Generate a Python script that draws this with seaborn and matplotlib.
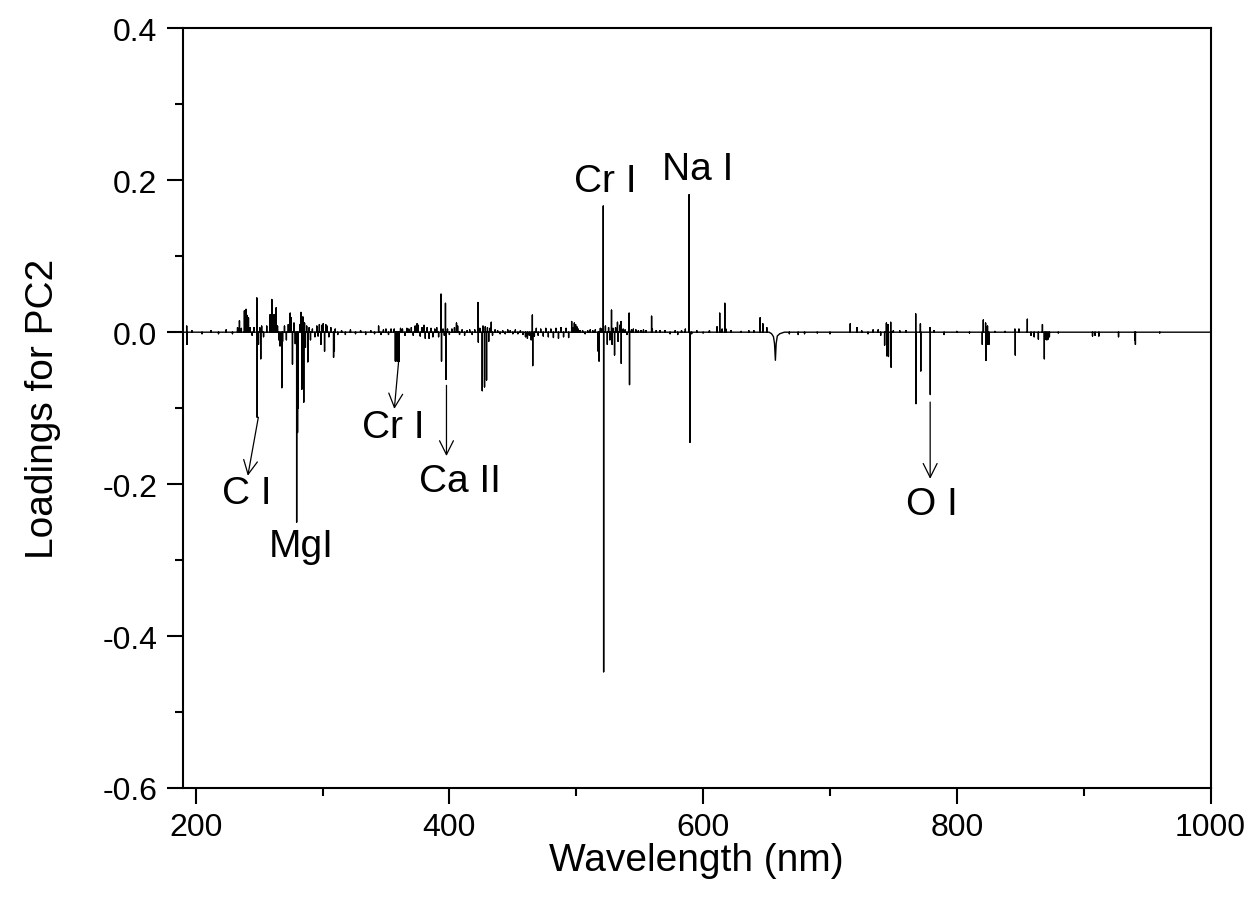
import matplotlib
matplotlib.use("Agg")
import matplotlib.pyplot as plt
import seaborn as sns
import pandas as pd
from matplotlib.ticker import MultipleLocator, FormatStrFormatter

# ---- data: emission-line loadings (wavelength nm, PC2 loading) ----
peak_wl = [
    192.9, 193.1, 197, 205, 212, 218, 224, 229,
    233.0, 234.5, 236, 238.4, 239.7, 240.5, 241.6, 243, 244.5, 246,
    248.2, 248.5, 249.5, 250.5, 251.3, 252, 253.5,
    256, 258.7, 259.2, 260.0, 260.5, 261.8, 262.5, 263.4, 264.5,
    265.5, 266.5, 267.9, 268.5, 270, 271.5, 273, 274.5, 275.2, 276.3, 277.5, 278.5,
    279.6, 280.3, 280.8, 282, 283.0, 283.7, 284.5, 285.2, 285.8, 286.5, 287.5, 288.4, 289.5, 290.5,
    292, 294, 295.5, 296.5, 297.5, 298.7, 299.5, 300.5, 301.6, 302.5, 303.5, 305, 306.5, 308.7, 309.3, 310,
    312, 315, 318, 322, 326, 330, 334, 338, 341, 344.2, 346, 348, 350, 352, 354,
    356.5, 357.4, 357.9, 358.6, 359.3, 360.0, 360.5, 361.5,
    363, 365, 366.5, 368, 370, 371.5, 373, 374.5, 375.5, 377, 378.5, 380, 381, 382.5, 384, 385.5, 387, 388.5, 390, 391.5,
    393.4, 393.8, 395, 396, 396.9, 397.3, 398.5, 400,
    402, 404, 405.6, 406.5, 408, 410, 412, 414, 416, 418, 420,
    422.5, 422.8, 424, 425.9, 426.5, 427.7, 428.3, 429.3, 430, 431, 432, 433, 434, 436, 438, 440,
    442, 444, 446, 448, 450, 452, 454, 456, 458, 460, 461.5, 463, 464.5, 465.4, 465.7, 467, 468.5,
    470, 472, 474, 476, 478, 480, 482, 484, 486, 488, 490, 492, 494,
    496.4, 497.5, 498.5, 499.5, 500.5, 501.5, 503, 505, 507, 509, 511, 513, 515,
    517.3, 518.0, 519, 520, 521.3, 521.6,
    523, 524.5, 525.5, 526.5, 527.8, 528.3, 529, 530.2, 531, 532.5, 533, 534.3, 535.2, 535.5,
    537, 538.5, 540, 541.7, 542.0, 543.5, 545, 547, 549, 551, 553, 555,
    559.4, 560, 563, 566, 570, 574, 578, 580, 583, 586,
    589.0, 589.6,
    591, 595, 600, 605, 611, 613.1, 615, 617.1, 618, 622, 630, 636, 640,
    645.0, 647.1, 650.2,
    668, 675, 680, 690, 700,
    716.0, 721.3, 725, 730, 734, 738, 740, 743.1, 744.5, 744.8, 745.8, 746.1, 747.9, 748.2, 750, 755, 760,
    767.6, 767.9, 771.3, 771.6, 778.8, 779.1, 782, 790, 800, 810,
    820.1, 820.9, 822.7, 823.0, 824.2, 824.5, 825.3, 830, 838,
    845.8, 846.1, 849, 855.6, 858.5, 861, 864.3, 867.5, 869.0, 870, 871, 872, 873, 880,
    907, 909, 912, 927.5, 940.4, 940.8, 960,
]
peak_val = [
    0.008, -0.016, 0.002, -0.002, 0.002, -0.002, 0.003, -0.002,
    0.006, 0.015, 0.005, 0.028, 0.030, 0.022, 0.019, 0.006, -0.004, 0.006,
    0.045, -0.112, -0.016, 0.006, -0.035, 0.008, -0.006,
    0.008, 0.023, 0.012, 0.043, 0.015, 0.023, 0.010, 0.032, 0.008,
    -0.010, -0.018, -0.073, -0.012, 0.008, -0.010, 0.010, 0.025, 0.019, -0.042, 0.012, -0.015,
    -0.250, -0.132, -0.100, 0.010, 0.026, -0.075, 0.020, -0.092, 0.012, -0.020, 0.008, -0.039, 0.006, -0.010,
    0.004, -0.006, 0.008, -0.005, 0.010, -0.016, 0.009, 0.011, -0.025, 0.010, 0.008, -0.006, 0.006, -0.033, -0.025, 0.004,
    -0.003, 0.002, -0.003, 0.003, -0.002, 0.002, -0.003, 0.002, -0.002, 0.008, -0.003, 0.003, 0.004, -0.003, 0.004,
    0.004, -0.038, -0.038, -0.036, -0.038, -0.036, -0.038, 0.005,
    0.004, -0.004, 0.005, 0.004, 0.006, -0.004, 0.008, 0.011, 0.009, -0.005, 0.006, 0.009, -0.008, 0.006, -0.008, 0.005, -0.006, 0.004, 0.006, -0.006,
    0.050, -0.038, 0.004, -0.004, 0.038, -0.062, 0.004, -0.003,
    0.004, 0.006, 0.012, 0.008, -0.003, 0.003, -0.004, 0.002, 0.003, -0.003, 0.003,
    0.039, -0.013, 0.005, -0.077, 0.008, -0.072, 0.007, -0.063, 0.006, -0.012, 0.005, 0.013, -0.004, 0.003, 0.002, -0.002,
    0.002, -0.002, 0.003, 0.002, -0.002, 0.003, -0.002, 0.002, -0.003, -0.006, -0.008, -0.004, -0.010, 0.0225, -0.044, -0.005, 0.005,
    -0.004, 0.004, -0.005, 0.005, -0.006, 0.004, -0.007, 0.005, -0.008, 0.006, -0.006, 0.005, -0.007,
    0.014, 0.006, 0.012, 0.010, 0.007, 0.004, 0.002, 0.002, -0.002, 0.002, 0.003, 0.002, 0.003,
    -0.025, -0.038, 0.005, 0.004, 0.166, -0.447,
    0.008, -0.016, 0.006, -0.010, 0.029, -0.016, 0.005, -0.030, 0.006, 0.013, -0.012, 0.009, 0.014, -0.041,
    0.004, 0.003, -0.003, 0.025, -0.069, 0.003, 0.004, 0.003, 0.002, 0.002, 0.003, 0.002,
    0.021, 0.004, 0.002, 0.002, 0.002, -0.002, 0.002, -0.003, 0.002, 0.004,
    0.181, -0.145,
    -0.002, 0.002, -0.001, 0.002, 0.007, 0.025, 0.004, 0.038, 0.004, 0.002, 0.001, 0.002, 0.002,
    0.019, 0.011, 0.006,
    -0.002, -0.003, -0.002, -0.001, -0.002,
    0.011, 0.006, 0.002, -0.002, 0.003, 0.003, -0.004, -0.017, 0.012, -0.031, 0.010, -0.032, 0.013, -0.046, 0.002, 0.002, 0.002,
    0.024, -0.094, 0.011, -0.051, 0.006, -0.082, 0.002, -0.003, 0.001, -0.001,
    -0.016, 0.016, 0.012, -0.037, 0.008, -0.016, -0.016, 0.001, 0.001,
    0.004, -0.030, 0.004, 0.017, -0.004, -0.006, -0.009, 0.010, -0.035, -0.009, -0.010, -0.009, -0.006, -0.001,
    -0.005, -0.004, -0.005, -0.006, -0.010, -0.016, -0.001,
]
# broad H-alpha profile
halpha_wl = [652.0, 654.0, 655.5, 656.3, 657.0, 657.6, 658.5, 660.5, 664.0]
halpha_val = [0.0, -0.002, -0.006, -0.015, -0.037, -0.015, -0.005, -0.002, 0.0]
range_wl = [190.0, 1000.0]

# annotations: label, text position, arrow tail, arrow head (None = no arrow)
ann_labels = ["C I", "MgI", "Cr I", "Ca II", "Cr I", "Na I", "O I"]
ann_text_xy = [(240.5, -0.212), (283.5, -0.282), (356.0, -0.125), (408.0, -0.196),
               (522.5, 0.199), (595.5, 0.215), (780.0, -0.226)]
ann_tail = [(249.4, -0.112), None, (360.0, -0.038), (397.7, -0.070), None, None, (779.0, -0.092)]
ann_head = [(241.1, -0.189), None, (356.6, -0.101), (397.7, -0.163), None, None, (779.0, -0.193)]

# ---- build stick spectrum ----
pts = [(range_wl[0], 0.0), (range_wl[1], 0.0)]
for w, v in zip(peak_wl, peak_val):
    pts += [(w, 0.0), (w, v), (w, 0.0)]
pts += list(zip(halpha_wl, halpha_val))
pts = sorted(pts, key=lambda p: p[0])
df = pd.DataFrame(pts, columns=["Wavelength", "Loading"])

sns.set_theme(style="ticks")
plt.rcParams["font.family"] = ["Liberation Sans", "DejaVu Sans"]
plt.rcParams["axes.unicode_minus"] = False

W, H = 1254, 912
fig = plt.figure(figsize=(W / 100, H / 100), dpi=100)
x0, x1, yt, yb = 183, 1210.5, 29.3, 789
ax = fig.add_axes([x0 / W, 1 - yb / H, (x1 - x0) / W, (yb - yt) / H])

sns.lineplot(data=df, x="Wavelength", y="Loading", ax=ax, sort=False,
             estimator=None, color="black", linewidth=1.0)

ax.set_xlim(190, 1000)
ax.set_ylim(-0.6, 0.4)
ax.xaxis.set_major_locator(MultipleLocator(200))
ax.xaxis.set_minor_locator(MultipleLocator(100))
ax.yaxis.set_major_locator(MultipleLocator(0.2))
ax.yaxis.set_minor_locator(MultipleLocator(0.1))
ax.yaxis.set_major_formatter(FormatStrFormatter("%.1f"))
ax.xaxis.set_major_formatter(FormatStrFormatter("%d"))

for s in ax.spines.values():
    s.set_linewidth(1.5)
    s.set_color("black")
ax.tick_params(which="major", direction="out", length=11.5, width=1.5,
               labelsize=23, colors="black", pad=6)
ax.tick_params(which="minor", direction="out", length=5.8, width=1.5, colors="black")
ax.tick_params(axis="y", which="major", pad=7)

ax.set_xlabel("Wavelength (nm)", fontsize=28, labelpad=0, color="black")
ax.set_ylabel("Loadings for PC2", fontsize=28, labelpad=30, color="black")

for lab, txy, tail, head in zip(ann_labels, ann_text_xy, ann_tail, ann_head):
    ax.text(txy[0], txy[1], lab, fontsize=28, ha="center", va="center", color="black")
    if tail is not None:
        ax.annotate("", xy=head, xytext=tail,
                    arrowprops=dict(arrowstyle="->", color="black", lw=0.9,
                                    shrinkA=0, shrinkB=0, mutation_scale=25))

fig.savefig("out.png", dpi=100, facecolor="white")
